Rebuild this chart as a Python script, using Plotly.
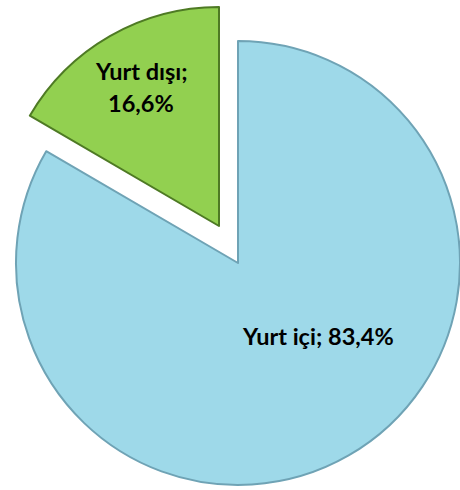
import plotly.graph_objects as go

labels = ["Yurt içi", "Yurt dışı"]
values = [83.4, 16.6]
colors = ["#9ED9E9", "#92D050"]
edge_colors = ["#6FA3B5", "#4E7A24"]

W, H = 460, 490


def fmt(v):
    return f"{v:.1f}".replace(".", ",") + "%"


def dom(cx, cy, r):
    # cx, cy in pixels from top-left
    return dict(x=[max(0, (cx - r) / W), min(1, (cx + r) / W)],
                y=[max(0, (H - cy - r) / H), min(1, (H - cy + r) / H)])


fig = go.Figure()

# main pie: the domestic slice (abroad slice kept transparent)
fig.add_trace(go.Pie(
    labels=labels, values=values, sort=False, direction="clockwise", rotation=0,
    marker=dict(colors=[colors[0], "rgba(0,0,0,0)"],
                line=dict(color=[edge_colors[0], "rgba(0,0,0,0)"], width=2)),
    textinfo="none", hoverinfo="label+percent", showlegend=False,
    domain=dom(238, 263, 222),
))

# exploded slice: abroad (domestic slice kept transparent)
fig.add_trace(go.Pie(
    labels=labels, values=values, sort=False, direction="clockwise", rotation=0,
    marker=dict(colors=["rgba(0,0,0,0)", colors[1]],
                line=dict(color=["rgba(0,0,0,0)", edge_colors[1]], width=2)),
    textinfo="none", hoverinfo="label+percent", showlegend=False,
    domain=dom(219, 226, 219),
))

font = dict(family="Lato", size=23.5, color="#000000", weight="bold")
annotations = [
    dict(x=318 / W, y=1 - 336 / H, text=f"{labels[0]}; {fmt(values[0])}"),
    dict(x=141 / W, y=1 - 71 / H, text=f"{labels[1]};"),
    dict(x=141 / W, y=1 - 103 / H, text=fmt(values[1])),
]
for a in annotations:
    a.update(xref="paper", yref="paper", showarrow=False, font=font,
             xanchor="center", yanchor="middle")

fig.update_layout(
    width=W, height=H, margin=dict(l=0, r=0, t=0, b=0),
    paper_bgcolor="#FFFFFF", plot_bgcolor="#FFFFFF",
    annotations=annotations,
)

fig.write_html("out.html", config={"displayModeBar": False},
               post_script="document.body.style.margin='0';")
